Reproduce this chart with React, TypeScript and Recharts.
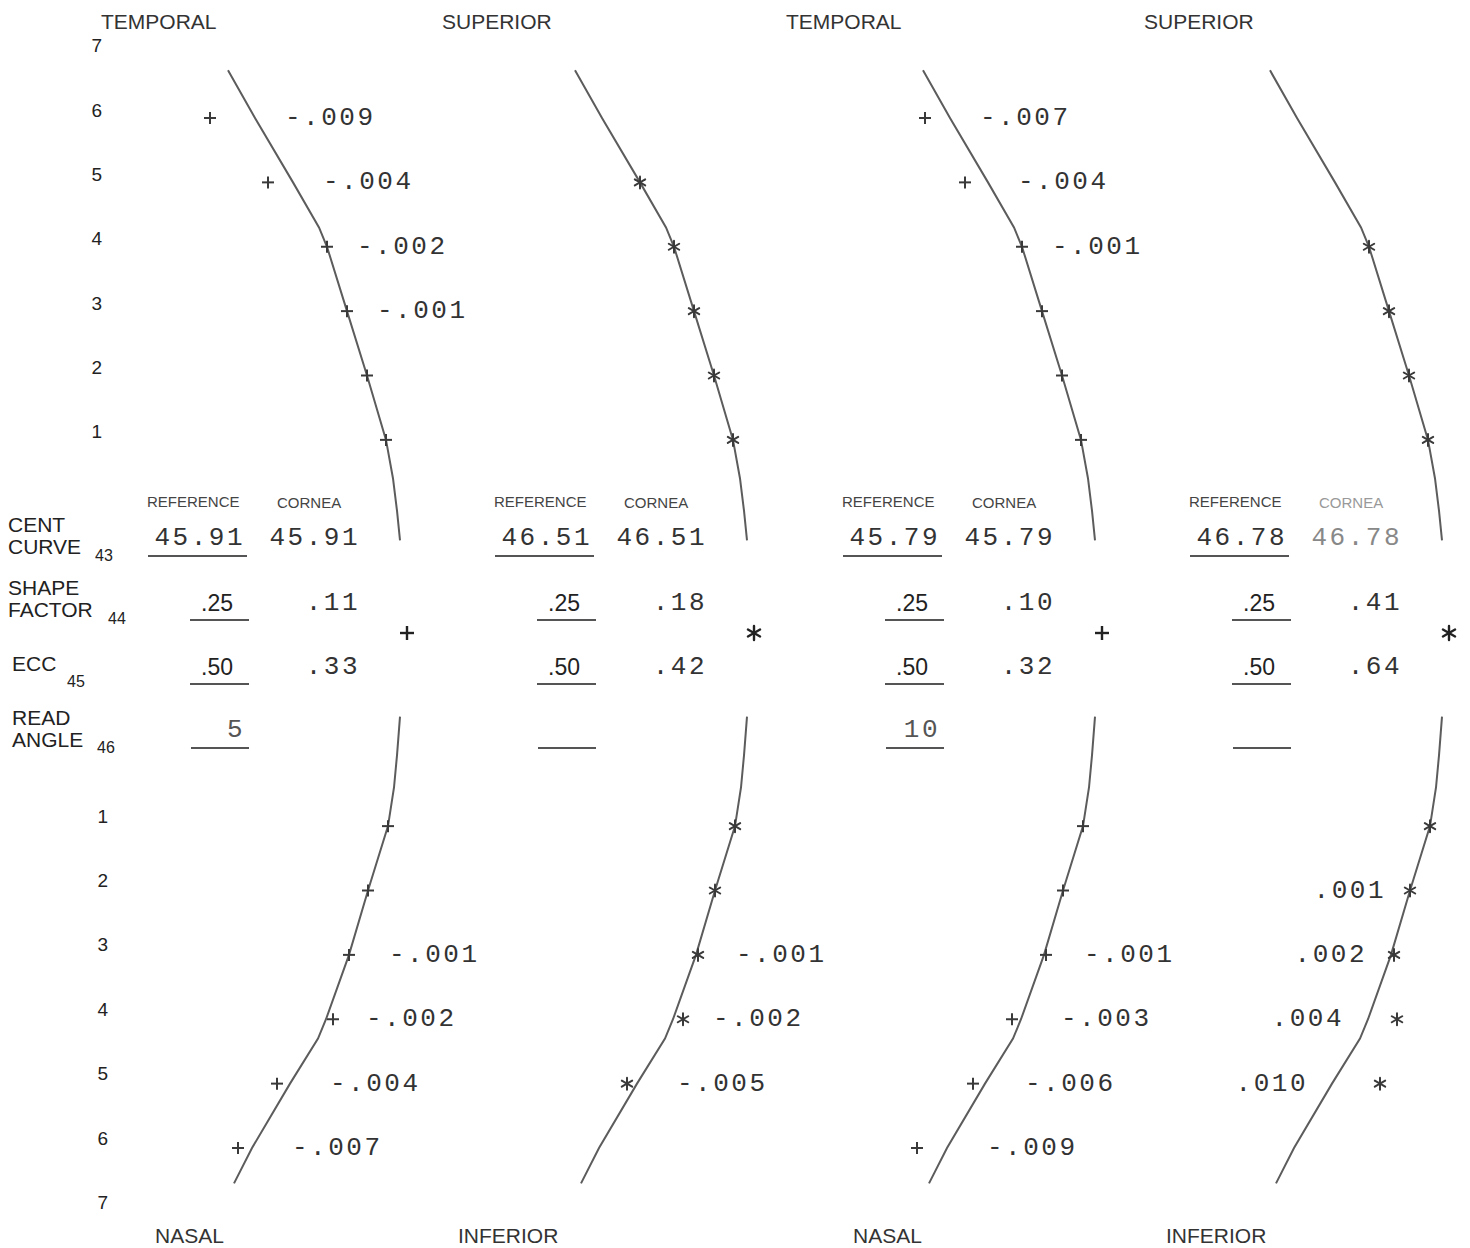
import React from 'react';
import { ScatterChart, Scatter, XAxis, YAxis } from 'recharts';

// Corneal contour plots: four meridian pairs, each drawn against its reference curve.
// y = zone + GAP above the apex and -(zone + GAP) below it, so the central table fits in the gap.
// x = sag relative to the apex, in plot units.

const PAGE_W = 1470;
const PAGE_H = 1248;
const CHART_W = 600;
const CHART_H = 1260;
const APEX_X = 407;
const GAP = 2;
const Y_MAX = 9.6;
const PANEL_LEFT = [0, 347, 695, 1042];

const TOP_LABELS = ['TEMPORAL', 'SUPERIOR', 'TEMPORAL', 'SUPERIOR'];
const BOTTOM_LABELS = ['NASAL', 'INFERIOR', 'NASAL', 'INFERIOR'];
const MARK_TYPES = ['+', '*', '+', '*'];

const ZONES = [1, 2, 3, 4, 5, 6];
const ZONE_TICKS = [1, 2, 3, 4, 5, 6, 7];

// reference contour, upper half (outer end first)
const UPPER_REF_ZONE = [6.74, 6, 5, 4.3, 4, 3, 2, 1, 0.4, -0.1, -0.56];
const UPPER_REF_SAG = [-179, -152, -114, -88, -80, -60, -40, -21, -14, -10, -7];
// reference contour, lower half (inner end first)
const LOWER_REF_ZONE = [-0.7, -0.1, 0.4, 1, 2, 3, 4, 4.3, 5, 6, 6.55];
const LOWER_REF_SAG = [-7, -10, -13, -19, -39, -58, -81, -89, -117, -155, -173];

// plotted offset of each zone mark from the reference contour (null = no reading)
const UPPER_OFFSETS = [
  [0, 0, 0, 0, -25, -45],
  [0, 0, 0, 0, 0, null],
  [0, 0, 0, 0, -23, -25],
  [0, 0, 0, 0, null, null],
];
const LOWER_OFFSETS = [
  [0, 0, 0, 7, -13, -14],
  [0, 0, 2, 10, -10, null],
  [0, 0, 2, -9, -12, -30],
  [0, 0, 3, 29, 48, null],
];

// printed deviations (mm) per zone
const UPPER_DEV = [
  [null, null, -0.001, -0.002, -0.004, -0.009],
  [null, null, null, null, null, null],
  [null, null, null, -0.001, -0.004, -0.007],
  [null, null, null, null, null, null],
];
const LOWER_DEV = [
  [null, null, -0.001, -0.002, -0.004, -0.007],
  [null, null, -0.001, -0.002, -0.005, null],
  [null, null, -0.001, -0.003, -0.006, -0.009],
  [null, 0.001, 0.002, 0.004, 0.01, null],
];

// table values
const CENT_CURVE_REF = [45.91, 46.51, 45.79, 46.78];
const CENT_CURVE_CORNEA = [45.91, 46.51, 45.79, 46.78];
const SHAPE_REF = [0.25, 0.25, 0.25, 0.25];
const SHAPE_CORNEA = [0.11, 0.18, 0.1, 0.41];
const ECC_REF = [0.5, 0.5, 0.5, 0.5];
const ECC_CORNEA = [0.33, 0.42, 0.32, 0.64];
const READ_ANGLE = [5, null, 10, null];

const MONO = '"Liberation Mono", "DejaVu Sans Mono", monospace';
const SANS = '"Liberation Sans", Arial, sans-serif';

const fmtDev = (d: number) => (d < 0 ? '-' : '') + Math.abs(d).toFixed(3).replace(/^0/, '');
const fmtFrac = (d: number) => d.toFixed(2).replace(/^0/, '');

const refAt = (zones: number[], sags: number[], z: number) => sags[zones.indexOf(z)];

const plusMark = (cx: number, cy: number, r: number, w: number, color: string) => (
  <g stroke={color} strokeWidth={w} strokeLinecap="butt">
    <line x1={cx - r} y1={cy} x2={cx + r} y2={cy} />
    <line x1={cx} y1={cy - r} x2={cx} y2={cy + r} />
  </g>
);

const starMark = (cx: number, cy: number, r: number, w: number, color: string) => {
  const arms = [90, 30, 150].map((a) => {
    const t = (a * Math.PI) / 180;
    const dx = Math.cos(t) * r;
    const dy = Math.sin(t) * r;
    return <line key={a} x1={cx - dx} y1={cy - dy} x2={cx + dx} y2={cy + dy} />;
  });
  return (
    <g stroke={color} strokeWidth={w} strokeLinecap="round">
      {arms}
    </g>
  );
};

const drawMark = (type: string, cx: number, cy: number, r: number, w: number, color: string) =>
  type === '+' ? plusMark(cx, cy, r, w, color) : starMark(cx, cy, r, w, color);

const ZoneTick = (props: any) => {
  const { x, y, payload } = props;
  const v = payload.value;
  const lower = v < 0;
  return (
    <text
      x={x + (lower ? 6 : 0)}
      y={y + (lower ? -10 : -8)}
      textAnchor="end"
      dominantBaseline="central"
      fontFamily={SANS}
      fontSize={19}
      fill="#222"
    >
      {Math.abs(v) - GAP}
    </text>
  );
};

const TICK_VALUES = ZONE_TICKS.flatMap((z) => [z + GAP, -(z + GAP)]);

function Panel({ i }: { i: number }) {
  const withAxis = i === 0;
  const axisW = withAxis ? 110 : 0;
  const type = MARK_TYPES[i];

  const upperCurve = UPPER_REF_ZONE.map((z, k) => ({ x: UPPER_REF_SAG[k], y: z + GAP }));
  const lowerCurve = LOWER_REF_ZONE.map((z, k) => ({ x: LOWER_REF_SAG[k], y: -(z + GAP) }));

  const marks: { x: number; y: number }[] = [];
  const labels: { x: number; y: number; dev: number; upper: boolean }[] = [];
  ZONES.forEach((z, k) => {
    const uRef = refAt(UPPER_REF_ZONE, UPPER_REF_SAG, z);
    const lRef = refAt(LOWER_REF_ZONE, LOWER_REF_SAG, z);
    const uo = UPPER_OFFSETS[i][k];
    const lo = LOWER_OFFSETS[i][k];
    if (uo !== null) marks.push({ x: uRef + uo, y: z + GAP });
    if (lo !== null) marks.push({ x: lRef + lo, y: -(z + GAP) });
    const ud = UPPER_DEV[i][k];
    const ld = LOWER_DEV[i][k];
    if (ud !== null) labels.push({ x: uRef, y: z + GAP, dev: ud, upper: true });
    if (ld !== null) labels.push({ x: lRef, y: -(z + GAP), dev: ld, upper: false });
  });

  const apex = [{ x: 0, y: 0 }];

  const noDot = () => <g />;

  const markShape = (p: any) => drawMark(type, p.cx, p.cy, 6, 2, '#3a3a3a');
  const apexShape = (p: any) => drawMark(type, p.cx, p.cy, 7, 2.4, '#222');
  const labelShape = (p: any) => {
    const d = p.payload.dev;
    const neg = d < 0;
    const dx = neg ? (p.payload.upper ? 30 : 40) : -24;
    return (
      <text
        x={p.cx + dx}
        y={p.cy}
        textAnchor={neg ? 'start' : 'end'}
        dominantBaseline="central"
        fontFamily={MONO}
        fontSize={26}
        letterSpacing={2.5}
        fill="#333"
      >
        {fmtDev(d)}
      </text>
    );
  };

  const curveLine = { stroke: '#5c5c5c', strokeWidth: 2 };

  return (
    <div style={{ position: 'absolute', left: PANEL_LEFT[i], top: 0 }}>
      <ScatterChart width={CHART_W} height={CHART_H} margin={{ top: 15, right: 0, bottom: 9, left: 0 }}>
        <XAxis
          type="number"
          dataKey="x"
          domain={[axisW - APEX_X, CHART_W - APEX_X]}
          allowDataOverflow
          hide
        />
        <YAxis
          type="number"
          dataKey="y"
          domain={[-Y_MAX, Y_MAX]}
          allowDataOverflow
          hide={!withAxis}
          width={axisW}
          ticks={TICK_VALUES}
          interval={0}
          tick={withAxis ? (p: any) => <ZoneTick {...p} /> : false}
          tickLine={false}
          axisLine={false}
        />
        <Scatter data={upperCurve} line={curveLine} lineJointType="linear" shape={noDot} isAnimationActive={false} />
        <Scatter data={lowerCurve} line={curveLine} lineJointType="linear" shape={noDot} isAnimationActive={false} />
        <Scatter data={marks} shape={markShape} isAnimationActive={false} />
        <Scatter data={apex} shape={apexShape} isAnimationActive={false} />
        <Scatter data={labels} shape={labelShape} isAnimationActive={false} />
      </ScatterChart>
    </div>
  );
}

// row captions of the central table
const ROW_CAPTIONS = [
  { lines: ['CENT', 'CURVE'], sub: '43' },
  { lines: ['SHAPE', 'FACTOR'], sub: '44' },
  { lines: ['ECC'], sub: '45' },
  { lines: ['READ', 'ANGLE'], sub: '46' },
];

function Annotations() {
  const caption = (x: number, y: number, s: string, key: string, size = 21) => (
    <text key={key} x={x} y={y} dominantBaseline="central" fontFamily={SANS} fontSize={size} fill="#222">
      {s}
    </text>
  );
  const captionLayout = [
    { x: 8, ys: [524, 546], sub: [95, 555] },
    { x: 8, ys: [587, 609], sub: [108, 618] },
    { x: 12, ys: [663], sub: [67, 681] },
    { x: 12, ys: [717, 739], sub: [97, 747] },
  ];

  return (
    <svg width={PAGE_W} height={PAGE_H} style={{ position: 'absolute', left: 0, top: 0 }}>
      {TOP_LABELS.map((s, i) => (
        <text key={'t' + i} x={[101, 442, 786, 1144][i]} y={21} dominantBaseline="central" fontFamily={SANS} fontSize={21} fill="#333">
          {s}
        </text>
      ))}
      {BOTTOM_LABELS.map((s, i) => (
        <text key={'b' + i} x={[155, 458, 853, 1166][i]} y={1235} dominantBaseline="central" fontFamily={SANS} fontSize={21} fill="#333">
          {s}
        </text>
      ))}

      {ROW_CAPTIONS.map((row, r) => {
        const lay = captionLayout[r];
        return (
          <g key={'c' + r}>
            {row.lines.map((s, k) => caption(lay.x, lay.ys[k], s, 'l' + k))}
            <text x={lay.sub[0]} y={lay.sub[1]} dominantBaseline="central" fontFamily={SANS} fontSize={16} fill="#222">
              {row.sub}
            </text>
          </g>
        );
      })}

      {PANEL_LEFT.map((left, i) => {
        const refEnd = left + 245;
        const sansEnd = left + 233;
        const corEnd = left + 360;
        const monoText = (x: number, y: number, s: string, fill = '#333') => (
          <text x={x} y={y} textAnchor="end" dominantBaseline="central" fontFamily={MONO} fontSize={26} letterSpacing={2.5} fill={fill}>
            {s}
          </text>
        );
        const sansText = (x: number, y: number, s: string) => (
          <text x={x} y={y} textAnchor="end" dominantBaseline="central" fontFamily={SANS} fontSize={23} fill="#222">
            {s}
          </text>
        );
        const rule = (x1: number, x2: number, y: number) => (
          <line x1={x1} x2={x2} y1={y} y2={y} stroke="#555" strokeWidth={2} />
        );
        const faded = i === 3;
        return (
          <g key={'p' + i}>
            <text x={left + 147} y={501} dominantBaseline="central" fontFamily={SANS} fontSize={15} fill="#444">
              REFERENCE
            </text>
            <text x={left + 277} y={502} dominantBaseline="central" fontFamily={SANS} fontSize={15} fill={faded ? '#999' : '#444'}>
              CORNEA
            </text>
            {monoText(refEnd, 538, CENT_CURVE_REF[i].toFixed(2))}
            {monoText(corEnd, 538, CENT_CURVE_CORNEA[i].toFixed(2), faded ? '#888' : '#333')}
            {rule(left + 148, left + 247, 556)}
            {sansText(sansEnd, 603, fmtFrac(SHAPE_REF[i]))}
            {monoText(corEnd, 603, fmtFrac(SHAPE_CORNEA[i]))}
            {rule(left + 190, left + 249, 620)}
            {sansText(sansEnd, 667, fmtFrac(ECC_REF[i]))}
            {monoText(corEnd, 667, fmtFrac(ECC_CORNEA[i]))}
            {rule(left + 190, left + 249, 684)}
            {READ_ANGLE[i] !== null && monoText(refEnd, 730, String(READ_ANGLE[i]), '#555')}
            {rule(left + 191, left + 249, 748)}
          </g>
        );
      })}
    </svg>
  );
}

export default function App() {
  return (
    <div
      style={{
        position: 'absolute',
        left: 0,
        top: 0,
        width: PAGE_W,
        height: PAGE_H,
        overflow: 'hidden',
        background: '#fff',
      }}
    >
      {PANEL_LEFT.map((_, i) => (
        <Panel key={i} i={i} />
      ))}
      <Annotations />
    </div>
  );
}
